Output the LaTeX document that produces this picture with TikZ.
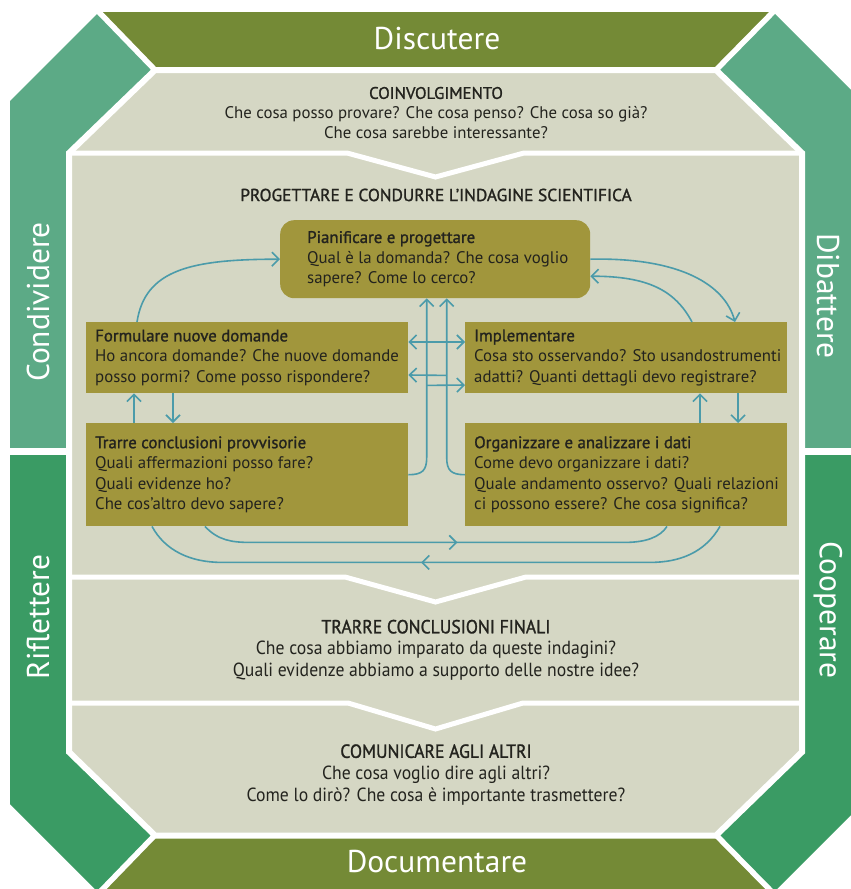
\documentclass[tikz,border=0pt]{standalone}
\usepackage{fontspec}
\setmainfont{PT Sans}
\newfontfamily\condfont[FakeStretch=0.93]{PT Sans}
\newfontfamily\semifont[FakeBold=1.3]{PT Sans}
\newfontfamily\condsemifont[FakeStretch=0.93,FakeBold=1.3]{PT Sans}
\usetikzlibrary{arrows.meta,calc,decorations.markings}
\definecolor{bandolive}{RGB}{116,138,54}
\definecolor{bandteal}{RGB}{92,170,134}
\definecolor{bandgreen}{RGB}{58,155,100}
\definecolor{panelc}{RGB}{213,215,196}
\definecolor{boxfill}{RGB}{161,150,60}
\definecolor{arrowc}{RGB}{75,155,170}
\definecolor{txt}{RGB}{35,35,30}
\begin{document}
\begin{tikzpicture}[x=1pt,y=-1pt,
  >={Straight Barb[length=7pt,width=14pt]},
  bandtext/.style={text=white, font=\fontsize{31.5}{33}\selectfont, inner sep=0pt},
  boxst/.style={fill=boxfill, draw=none, inner sep=0pt, anchor=north west},
  boxtext/.style={anchor=west, align=left, text=txt, inner sep=0pt, font=\fontsize{16.8}{20.5}\selectfont},
  sectext/.style={align=center, text=txt, inner sep=0pt},
  arr/.style={draw=arrowc, line width=1.6pt, ->},
  dbl/.style={draw=arrowc, line width=1.6pt, <->},
  plain/.style={draw=arrowc, line width=1.6pt},
  gap/.style={draw=white, line width=5.5pt},
  sep/.style={draw=white, line width=5pt, line join=miter},
  midtip/.style={postaction={decorate}, decoration={markings, mark=at position #1 with {\arrow[line width=1.6pt, arrowc]{>}}}}
]
\useasboundingbox (0,0) rectangle (851,889);
\clip (0,0) rectangle (851,889);
% outer octagon halves
\fill[bandteal] (99,12) -- (773,12) -- (862,101) -- (862,451) -- (10,451) -- (10,101) -- cycle;
\fill[bandgreen] (10,451) -- (862,451) -- (862,804) -- (773,893) -- (99,893) -- (10,804) -- cycle;
% top and bottom bands
\fill[bandolive] (99,12) -- (773,12) -- (716,70) -- (155,70) -- cycle;
\fill[bandolive] (155,835) -- (716,835) -- (773,893) -- (99,893) -- cycle;
% gaps
\draw[gap] (96,9) -- (156,71);
\draw[gap] (776,9) -- (715,71);
\draw[gap] (156,834) -- (96,896);
\draw[gap] (715,834) -- (776,896);
\draw[draw=white, line width=7pt] (0,451) -- (70,451);
\draw[draw=white, line width=7pt] (800,451) -- (870,451);
% inner panel
\filldraw[fill=panelc, draw=white, line width=6pt, line join=miter]
  (69,153) -- (155,70) -- (716,70) -- (802,153) -- (802,752) -- (716,835.5) -- (155,835.5) -- (69,752) -- cycle;
% separators with chevrons
\draw[sep] (69,153) -- (347,153) -- (435.5,177) -- (524,153) -- (802,153);
\draw[sep] (69,577) -- (345,577) -- (435.5,602) -- (526,577) -- (802,577);
\draw[sep] (69,703) -- (348,703) -- (435.5,729) -- (523,703) -- (802,703);
% band labels
\node[bandtext] (tdisc) at (437,39) {Discutere};
\node[bandtext] (tdoc) at (437,862) {Documentare};
\node[bandtext, rotate=90] (tcond) at (38,302) {Condividere};
\node[bandtext, rotate=90] (trifl) at (38,617) {Riflettere};
\node[bandtext, rotate=-90] (tdib) at (828,296) {Dibattere};
\node[bandtext, rotate=-90] (tcoop) at (828,610) {Cooperare};
% section texts
\node[sectext, font=\fontsize{16.8}{20}\selectfont] (coinv) at (436,113)
  {{\semifont COINVOLGIMENTO}\\Che cosa posso provare? Che cosa penso? Che cosa so già?\\Che cosa sarebbe interessante?};
\node[sectext, font=\semifont\fontsize{17.4}{20}\selectfont] (proget) at (436,195)
  {PROGETTARE E CONDURRE L’INDAGINE SCIENTIFICA};
\node[sectext, font=\condfont\fontsize{19}{21.5}\selectfont] (finali) at (436,650)
  {{\condsemifont TRARRE CONCLUSIONI FINALI}\\Che cosa abbiamo imparato da queste indagini?\\Quali evidenze abbiamo a supporto delle nostre idee?};
\node[sectext, font=\condfont\fontsize{19}{22}\selectfont] (comun) at (436,775)
  {{\condsemifont COMUNICARE AGLI ALTRI}\\Che cosa voglio dire agli altri?\\Come lo dirò? Che cosa è importante trasmettere?};
% boxes
\node[boxst, rounded corners=14pt, minimum width=310pt, minimum height=78pt] (plan) at (280,220) {};
\node[boxst, minimum width=322pt, minimum height=71pt] (form) at (86,322) {};
\node[boxst, minimum width=322pt, minimum height=71pt] (impl) at (465,322) {};
\node[boxst, minimum width=322pt, minimum height=103pt] (trarre) at (86,423) {};
\node[boxst, minimum width=322pt, minimum height=103pt] (org) at (465,423) {};
% box texts
\node[boxtext] (plantx) at ($(plan.west)+(27,0)$)
  {{\semifont Pianificare e progettare}\\Qual è la domanda? Che cosa voglio\\sapere? Come lo cerco?};
\node[boxtext] (formtx) at ($(form.west)+(9,0)$)
  {{\semifont Formulare nuove domande}\\Ho ancora domande? Che nuove domande\\posso pormi? Come posso rispondere?};
\node[boxtext] (impltx) at ($(impl.west)+(9,0)$)
  {{\semifont Implementare}\\Cosa sto osservando? Sto usandostrumenti\\adatti? Quanti dettagli devo registrare?};
\node[boxtext] (trarretx) at ($(trarre.west)+(9,0)$)
  {{\semifont Trarre conclusioni provvisorie}\\Quali affermazioni posso fare?\\Quali evidenze ho?\\Che cos’altro devo sapere?};
\node[boxtext] (orgtx) at ($(org.west)+(9,0)$)
  {{\semifont Organizzare e analizzare i dati}\\Come devo organizzare i dati?\\Quale andamento osservo? Quali relazioni\\ci possono essere? Che cosa significa?};
% curved arrows around the plan box
\draw[arr] ($(form.north west)+(51,0)$) .. controls +(8,-52) and +(-90,0) .. (plan.west);
\draw[arr] (plan.east) .. controls +(90,-2) and +(-10,-37) .. ($(impl.north west)+(270,0)$);
\draw[arr] ($(impl.north west)+(227,0)$) .. controls +(-17,-32) and +(57,0) .. ($(plan.east)+(0,17)$);
% vertical short arrows
\draw[arr] ($(trarre.north west)+(48,0)$) -- ($(form.south west)+(48,0)$);
\draw[arr] ($(form.south west)+(87,0)$) -- ($(trarre.north west)+(87,0)$);
\draw[arr] ($(org.north west)+(235,0)$) -- ($(impl.south west)+(235,0)$);
\draw[arr] ($(impl.south west)+(273,0)$) -- ($(org.north west)+(273,0)$);
% central verticals
\coordinate (vl) at ($(plan.south)+(-8.5,0)$);
\coordinate (vr) at ($(plan.south)+(11.5,0)$);
\draw[arr] (trarre.east) .. controls +(14,0) and +(0,13) .. ($(vl)+(0,159)$) -- (vl);
\draw[arr] (org.west) .. controls +(-14,0) and +(0,13) .. ($(vr)+(0,159)$) -- (vr);
% horizontal arrows
\draw[dbl] ($(form.north east)+(0,20)$) -- ($(impl.north west)+(0,20)$);
\coordinate (hl) at ($(vr)+(0,77)$);
\coordinate (hr) at ($(vl)+(0,87)$);
\draw[arr] (hl) -- ($(form.north east)+(0,53)$);
\draw[arr] (hr) -- ($(impl.north west)+(0,63)$);
% bottom loops
\draw[plain, midtip=0.545] ($(trarre.south west)+(119,0)$) .. controls +(13,14) and +(-18,0) .. ($(trarre.south west)+(164,16)$)
  -- ($(org.south west)+(160,16)$) .. controls +(20,0) and +(-7,11) .. ($(org.south west)+(202,0)$);
\draw[plain, midtip=0.525] ($(org.south west)+(255,0)$) .. controls +(-15,26) and +(30,0) .. ($(org.south west)+(185,36)$)
  -- ($(trarre.south west)+(136,36)$) .. controls +(-32,0) and +(13,24) .. ($(trarre.south west)+(66,0)$);
\end{tikzpicture}
\end{document}
